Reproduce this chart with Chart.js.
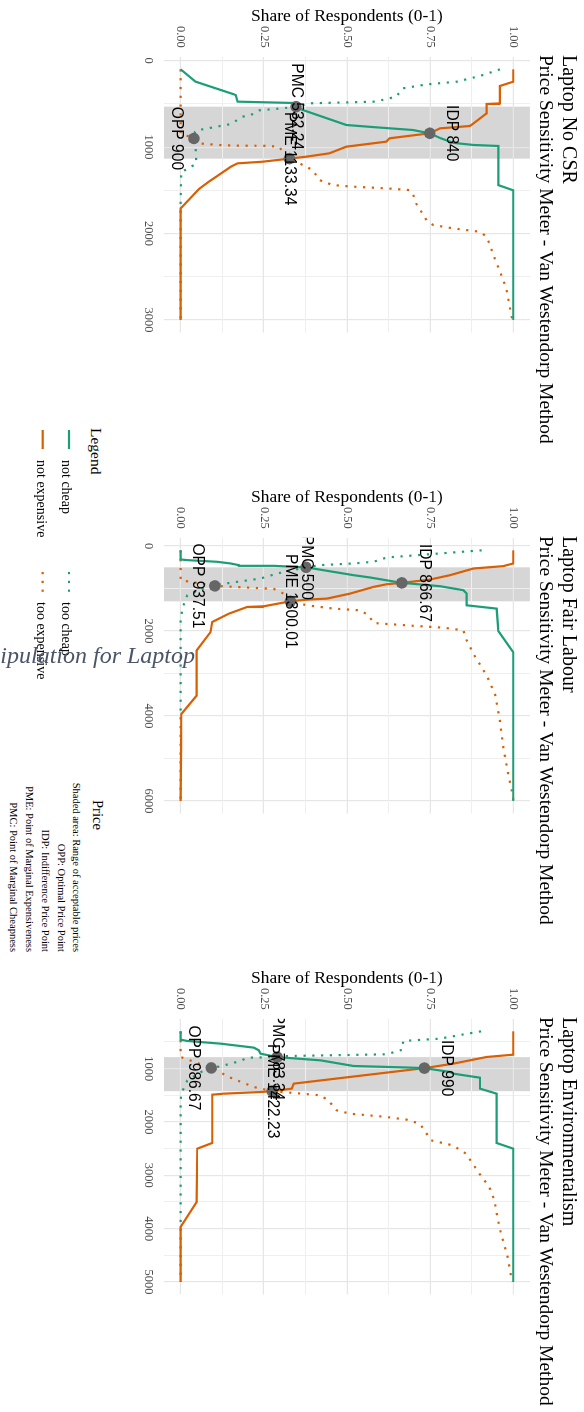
<!DOCTYPE html>
<html>
<head>
<meta charset="utf-8">
<script src="https://cdn.jsdelivr.net/npm/chart.js@4.4.1/dist/chart.umd.min.js"></script>
<style>
  html, body { margin: 0; padding: 0; background: #fff; }
  body { width: 584px; height: 1412px; overflow: hidden; position: relative; }
  /* the whole sheet is laid out landscape and turned a quarter clockwise */
  #sheet { position: absolute; left: 0; top: 0; width: 1412px; height: 584px;
           transform-origin: 0 0; transform: translateX(584px) rotate(90deg); }
  #sheet canvas { position: absolute; top: 0; }
  .txt { position: absolute; white-space: nowrap; color: #000;
         font-family: "Liberation Serif", "Times New Roman", serif; }
  .ttl { font-size: 20px; line-height: 20px; }
  .sub { font-size: 19.5px; line-height: 19.5px; }
  .lgt { font-size: 15.5px; line-height: 15.5px; }
  .lgi { font-size: 14px; line-height: 14px; }
  .cap { font-size: 10.5px; line-height: 10.5px; text-align: right; }
  #overlay { position: absolute; right: 389px; top: 643px; white-space: nowrap;
             font-family: "Liberation Serif", "Times New Roman", serif; font-style: italic;
             font-size: 24px; line-height: 24px; color: #4a5568; }
</style>
</head>
<body>
<div id="sheet">
  <canvas id="c1" width="345" height="455" style="left:0px"></canvas>
  <canvas id="c2" width="345" height="455" style="left:481px"></canvas>
  <canvas id="c3" width="345" height="455" style="left:962px"></canvas>

  <div class="txt ttl" style="left:55px;top:4.2px">Laptop No CSR</div>
  <div class="txt sub" style="left:55px;top:28.2px">Price Sensitivity Meter - Van Westendorp Method</div>
  <div class="txt ttl" style="left:536px;top:4.2px">Laptop Fair Labour</div>
  <div class="txt sub" style="left:536px;top:28.2px">Price Sensitivity Meter - Van Westendorp Method</div>
  <div class="txt ttl" style="left:1017px;top:4.2px">Laptop Environmentalism</div>
  <div class="txt sub" style="left:1017px;top:28.2px">Price Sensitivity Meter - Van Westendorp Method</div>

  <!-- legend -->
  <div class="txt lgt" style="left:428px;top:480px">Legend</div>
  <svg style="position:absolute;left:0;top:0;overflow:visible" width="1" height="1">
    <line x1="430" y1="515" x2="449" y2="515" stroke="#1b9e77" stroke-width="2.2"/>
    <line x1="430" y1="541.3" x2="449" y2="541.3" stroke="#d95f02" stroke-width="2.2"/>
    <line x1="572" y1="515" x2="592" y2="515" stroke="#1b9e77" stroke-width="2.2" stroke-dasharray="2.2 6.6"/>
    <line x1="572" y1="541.3" x2="592" y2="541.3" stroke="#d95f02" stroke-width="2.2" stroke-dasharray="2.2 6.6"/>
  </svg>
  <div class="txt lgi" style="left:460px;top:510.5px">not cheap</div>
  <div class="txt lgi" style="left:460px;top:535.5px">not expensive</div>
  <div class="txt lgi" style="left:602px;top:510.5px">too cheap</div>
  <div class="txt lgi" style="left:602px;top:535.5px">too expensive</div>

  <!-- caption -->
  <div class="txt" style="left:800px;top:479.3px;font-size:14.6px;line-height:14.6px">Price</div>
  <div class="txt cap" style="right:460px;top:502.6px">Shaded area: Range of acceptable prices</div>
  <div class="txt cap" style="right:460px;top:518.4px">OPP: Optimal Price Point</div>
  <div class="txt cap" style="right:460px;top:534.2px">IDP: Indifference Price Point</div>
  <div class="txt cap" style="right:460px;top:550px">PME: Point of Marginal Expensiveness</div>
  <div class="txt cap" style="right:460px;top:565.8px">PMC: Point of Marginal Cheapness</div>
</div>
<div id="overlay">Manipulation for Laptop</div>

<script>
// ---- share axis ----
const shareGrid = [0, 0.125, 0.25, 0.375, 0.5, 0.625, 0.75, 0.875, 1];
const shareTickLabels = ['0.00', '0.25', '0.50', '0.75', '1.00'];

// ---- Laptop No CSR ----
const csrPriceGrid = [0, 500, 1000, 1500, 2000, 2500, 3000];
const csrPriceLabels = ['0', '1000', '2000', '3000'];
const csrNotCheap = [[100,0],[243,0.045],[390,0.161],[400,0.166],[474,0.171],[489,0.336],[532.24,0.347],[570,0.367],[744,0.498],[771,0.588],[802,0.698],[840,0.749],[895,0.78],[951,0.82],[975,0.88],[987,0.955],[1440,0.955],[1500,1],[3000,1]];
const csrNotExpensive = [[100,1],[243,1],[293,0.96],[494,0.96],[501,0.92],[609,0.92],[744,0.874],[756,0.869],[783,0.78],[840,0.749],[898,0.628],[937,0.618],[995,0.498],[1072,0.447],[1111,0.377],[1133.34,0.327],[1169,0.246],[1188,0.171],[1227,0.151],[1400,0.085],[1485,0.055],[1690,0.005],[1709,0],[3000,0]];
const csrTooCheap = [[100,0.96],[177,0.9],[243,0.83],[274,0.74],[320,0.668],[416,0.648],[474,0.585],[493,0.392],[532.24,0.347],[551,0.306],[575,0.236],[629,0.211],[648,0.186],[733,0.151],[802,0.055],[822,0.043],[900,0.04],[995,0.045],[1188,0.047],[1246,0.025],[1284,0.002],[1612,0],[3000,0]];
const csrTooExpensive = [[100,0],[840,0],[870,0.02],[900,0.04],[957,0.055],[976,0.116],[983,0.166],[985,0.256],[995,0.296],[1072,0.31],[1133.34,0.327],[1188,0.357],[1265,0.397],[1381,0.417],[1439,0.457],[1458,0.518],[1477,0.618],[1497,0.688],[1535,0.698],[1651,0.708],[1844,0.739],[1901,0.759],[1940,0.819],[1979,0.899],[2036,0.92],[2345,0.95],[2538,0.97],[2654,0.98],[2962,0.995],[3000,1]];
const csrPointNames = ['PMC', 'IDP', 'OPP', 'PME'];
const csrPointPrices = [532.24, 840, 900, 1133.34];
const csrPointShares = [0.347, 0.749, 0.04, 0.327];

// ---- Laptop Fair Labour ----
const flPriceGrid = [0, 1000, 2000, 3000, 4000, 5000, 6000];
const flPriceLabels = ['0', '2000', '4000', '6000'];
const flNotCheap = [[100,0],[315,0],[331,0.02],[370,0.11],[409,0.15],[449,0.175],[465,0.28],[500,0.377],[685,0.52],[740,0.57],[866.67,0.665],[882,0.69],[945,0.78],[1039,0.85],[1118,0.86],[1394,0.86],[1472,0.95],[2000,0.955],[2496,1],[6000,1]];
const flNotExpensive = [[100,1],[409,1],[472,0.97],[528,0.88],[685,0.81],[787,0.75],[866.67,0.665],[898,0.62],[961,0.58],[1118,0.51],[1236,0.44],[1260,0.38],[1300.01,0.33],[1417,0.25],[1433,0.2],[1591,0.145],[1787,0.095],[2024,0.09],[2457,0.048],[3520,0.048],[3953,0.002],[6000,0]];
const flTooCheap = [[100,0.905],[173,0.78],[268,0.62],[370,0.58],[409,0.52],[449,0.42],[500,0.377],[646,0.29],[764,0.24],[898,0.12],[937.51,0.103],[961,0.08],[1157,0.02],[1472,0.005],[1748,0],[6000,0]];
const flTooExpensive = [[100,0],[803,0],[937.51,0.103],[1008,0.28],[1157,0.32],[1300.01,0.33],[1394,0.38],[1472,0.46],[1512,0.54],[1630,0.565],[1811,0.58],[1866,0.68],[1921,0.79],[1984,0.85],[2220,0.86],[2535,0.88],[3047,0.92],[3480,0.945],[4110,0.96],[4740,0.97],[5370,0.985],[5921,1],[6000,1]];
const flPointNames = ['PMC', 'IDP', 'OPP', 'PME'];
const flPointPrices = [500, 866.67, 937.51, 1300.01];
const flPointShares = [0.377, 0.665, 0.103, 0.33];

// ---- Laptop Environmentalism ----
const envPriceGrid = [500, 1000, 1500, 2000, 2500, 3000, 3500, 4000, 4500, 5000];
const envPriceLabels = ['1000', '2000', '3000', '4000', '5000'];
const envNotCheap = [[300,0],[456,0],[481,0.02],[531,0.12],[606,0.22],[656,0.235],[719,0.24],[783.34,0.29],[844,0.42],[950,0.52],[978,0.68],[990,0.733],[1063,0.81],[1094,0.82],[1169,0.9],[1375,0.9],[1469,0.95],[2394,0.95],[2500,1],[5000,1]];
const envNotExpensive = [[300,1],[738,1],[781,0.92],[906,0.82],[990,0.733],[1281,0.34],[1375,0.334],[1422.23,0.275],[1438,0.24],[1469,0.13],[1488,0.095],[2394,0.095],[2500,0.05],[3500,0.048],[3969,0],[5000,0]];
const envTooCheap = [[300,0.903],[438,0.778],[481,0.669],[644,0.667],[731,0.619],[763,0.32],[783.34,0.29],[794,0.2],[856,0.18],[956,0.12],[986.67,0.092],[1031,0.07],[1219,0.02],[1469,0.002],[1594,0],[5000,0]];
const envTooExpensive = [[300,0],[781,0],[986.67,0.092],[1169,0.15],[1344,0.22],[1422.23,0.275],[1456,0.34],[1500,0.42],[1594,0.444],[1781,0.469],[1844,0.509],[1906,0.619],[1956,0.679],[2031,0.719],[2344,0.753],[2438,0.818],[2594,0.858],[2969,0.898],[3219,0.928],[3469,0.943],[3969,0.958],[4531,0.983],[4875,0.993],[5000,0.998]];
const envPointNames = ['PMC', 'IDP', 'OPP', 'PME'];
const envPointPrices = [783.34, 990, 986.67, 1422.23];
const envPointShares = [0.29, 0.733, 0.092, 0.275];

// ---- drawing ----
const SERIF = '"Liberation Serif", "Times New Roman", serif';
const SANS = '"Liberation Sans", Arial, sans-serif';
const GREEN = '#1b9e77';
const ORANGE = '#d95f02';
const LABEL_SHIFT = { PMC: 0, PME: 0, IDP: -22, OPP: 17.5 };

const toXY = arr => arr.map(([x, y]) => ({ x, y }));

// shaded acceptable range (PMC..PME) under the grid, point labels on top
const vwMarks = {
  id: 'vwMarks',
  beforeDraw(chart, args, o) {
    const { ctx, chartArea: a, scales: { x } } = chart;
    const lo = x.getPixelForValue(o.prices[o.names.indexOf('PMC')]);
    const hi = x.getPixelForValue(o.prices[o.names.indexOf('PME')]);
    ctx.save();
    ctx.fillStyle = '#d6d6d6';
    ctx.fillRect(lo, a.top, hi - lo, a.bottom - a.top);
    ctx.restore();
  },
  afterDatasetsDraw(chart, args, o) {
    const { ctx, chartArea: a, scales: { x, y } } = chart;
    ctx.save();
    ctx.beginPath();
    ctx.rect(a.left, a.top, a.right - a.left, a.bottom - a.top);
    ctx.clip();
    ctx.font = '15.6px ' + SANS;
    ctx.fillStyle = '#000';
    ctx.textAlign = 'center';
    ctx.textBaseline = 'middle';
    o.names.forEach((n, i) => {
      const px = x.getPixelForValue(o.prices[i]);
      const py = y.getPixelForValue(o.shares[i]) + LABEL_SHIFT[n];
      ctx.fillText(n + ' ' + o.prices[i], px, py);
    });
    ctx.restore();
  }
};

function makePanel(id, p) {
  const series = [
    { data: p.tooCheap, color: GREEN, dash: [2.2, 6.6], order: 3 },
    { data: p.tooExpensive, color: ORANGE, dash: [2.2, 6.6], order: 3 },
    { data: p.notCheap, color: GREEN, dash: [], order: 2 },
    { data: p.notExpensive, color: ORANGE, dash: [], order: 2 }
  ];
  const datasets = series.map(s => ({
    data: toXY(s.data), showLine: true, borderColor: s.color, borderWidth: 2.2,
    borderDash: s.dash, borderCapStyle: 'butt', pointRadius: 0, tension: 0, order: s.order
  }));
  datasets.push({
    data: p.prices.map((v, i) => ({ x: v, y: p.shares[i] })),
    showLine: false, pointRadius: 5.8, pointBackgroundColor: '#666666', pointBorderWidth: 0, order: 0
  });

  new Chart(document.getElementById(id), {
    type: 'scatter',
    data: { datasets },
    plugins: [vwMarks],
    options: {
      responsive: false, animation: false, events: [],
      layout: { padding: { top: 54.1, right: 12.5, bottom: 0, left: 0 } },
      plugins: {
        legend: { display: false }, tooltip: { enabled: false },
        vwMarks: { names: p.names, prices: p.prices, shares: p.shares }
      },
      scales: {
        x: {
          type: 'linear', min: p.xMin, max: p.xMax,
          afterFit: s => { s.height = 35; },
          afterBuildTicks: s => { s.ticks = p.grid.map(v => ({ value: v })); },
          border: { display: false },
          grid: {
            drawTicks: false,
            color: c => p.labels.includes(String(c.tick.value)) ? '#e6e6e6' : '#efefef',
            lineWidth: c => p.labels.includes(String(c.tick.value)) ? 1.2 : 1
          },
          ticks: {
            autoSkip: false, maxRotation: 0, padding: 8.5, color: '#4d4d4d',
            font: { family: SERIF, size: 12.5 },
            callback: v => p.labels.includes(String(v)) ? String(v) : ''
          }
        },
        y: {
          type: 'linear', min: -0.05, max: 1.05,
          afterFit: s => { s.width = 56.8; },
          afterBuildTicks: s => { s.ticks = shareGrid.map(v => ({ value: v })); },
          border: { display: false },
          grid: {
            drawTicks: false,
            color: c => (c.tick.value * 4) % 1 === 0 ? '#e6e6e6' : '#efefef',
            lineWidth: c => (c.tick.value * 4) % 1 === 0 ? 1.2 : 1
          },
          ticks: {
            autoSkip: false, padding: 9, color: '#4d4d4d',
            font: { family: SERIF, size: 12.5 },
            callback: v => (v * 4) % 1 === 0 && shareTickLabels.includes(v.toFixed(2)) ? v.toFixed(2) : ''
          },
          title: {
            display: true, text: 'Share of Respondents (0-1)', color: '#000',
            font: { family: SERIF, size: 17.5 }, padding: { top: 5.6, bottom: 0 }
          }
        }
      }
    }
  });
}

makePanel('c1', { xMin: -45, xMax: 3145, grid: csrPriceGrid, labels: csrPriceLabels,
  notCheap: csrNotCheap, notExpensive: csrNotExpensive, tooCheap: csrTooCheap, tooExpensive: csrTooExpensive,
  names: csrPointNames, prices: csrPointPrices, shares: csrPointShares });
makePanel('c2', { xMin: -195, xMax: 6295, grid: flPriceGrid, labels: flPriceLabels,
  notCheap: flNotCheap, notExpensive: flNotExpensive, tooCheap: flTooCheap, tooExpensive: flTooExpensive,
  names: flPointNames, prices: flPointPrices, shares: flPointShares });
makePanel('c3', { xMin: 65, xMax: 5235, grid: envPriceGrid, labels: envPriceLabels,
  notCheap: envNotCheap, notExpensive: envNotExpensive, tooCheap: envTooCheap, tooExpensive: envTooExpensive,
  names: envPointNames, prices: envPointPrices, shares: envPointShares });
</script>
</body>
</html>
